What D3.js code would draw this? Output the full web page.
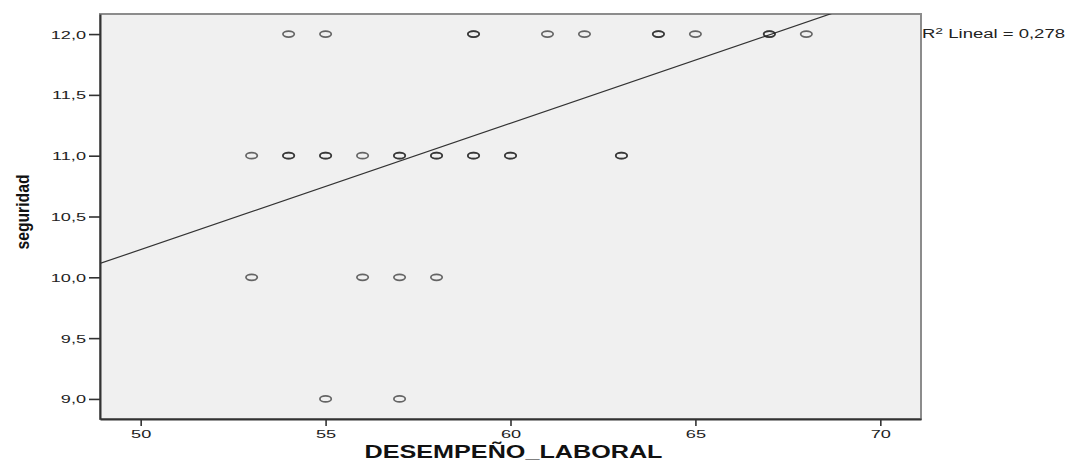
<!DOCTYPE html>
<html>
<head>
<meta charset="utf-8">
<script src="https://cdn.jsdelivr.net/npm/d3@7"></script>
<style>
  html, body { margin: 0; padding: 0; background: #fff; }
  svg { display: block; font-family: "Liberation Sans", Arial, sans-serif; }
</style>
</head>
<body>
<div id="chart"></div>
<script>
// puntos (DESEMPEÑO_LABORAL, seguridad) - los repetidos se ven más oscuros
const xValues = [54, 55, 59, 59, 61, 62, 64, 64, 65, 67, 67, 68,
                 53, 54, 54, 55, 55, 56, 57, 57, 58, 58, 59, 59, 60, 60, 63, 63,
                 53, 56, 57, 58,
                 55, 57];
const yValues = [12, 12, 12, 12, 12, 12, 12, 12, 12, 12, 12, 12,
                 11, 11, 11, 11, 11, 11, 11, 11, 11, 11, 11, 11, 11, 11, 11, 11,
                 10, 10, 10, 10,
                 9, 9];

const xTicks = [50, 55, 60, 65, 70];
const yTicks = [9, 9.5, 10, 10.5, 11, 11.5, 12];

// recta de ajuste lineal
const fitIntercept = 5.033;
const fitSlope = 0.1039;
const r2Label = "0,278";

const width = 1070, height = 463;
const plot = { left: 100, right: 921, top: 14, bottom: 419 };
const stretch = 1.65; // el original está estirado en horizontal

const svg = d3.select('#chart').append('svg')
  .attr('width', width)
  .attr('height', height);

const x = d3.scaleLinear().domain([48.9, 71.1]).range([plot.left, plot.right]);
const y = d3.scaleLinear().domain([8.835, 12.165]).range([plot.bottom, plot.top]);

const es = d3.formatLocale({ decimal: ',', thousands: '.', grouping: [3], currency: ['', '€'] });
const fmt1 = es.format('.1f');

// fondo del área de trazado
svg.append('rect')
  .attr('x', plot.left).attr('y', plot.top)
  .attr('width', plot.right - plot.left).attr('height', plot.bottom - plot.top)
  .attr('fill', '#f0f0f0')
  .attr('stroke', '#8c8c8c')
  .attr('stroke-width', 2);

svg.append('clipPath').attr('id', 'clip')
  .append('rect')
  .attr('x', plot.left).attr('y', plot.top)
  .attr('width', plot.right - plot.left).attr('height', plot.bottom - plot.top);

// ejes
const yAxis = svg.append('g')
  .attr('transform', `translate(${plot.left},0)`)
  .call(d3.axisLeft(y).tickValues(yTicks).tickFormat(fmt1).tickSize(11).tickSizeOuter(0));

const xAxis = svg.append('g')
  .attr('transform', `translate(0,${plot.bottom})`)
  .call(d3.axisBottom(x).tickValues(xTicks).tickFormat(d3.format('d')).tickSize(7).tickSizeOuter(0));

[yAxis, xAxis].forEach(g => {
  g.select('.domain').attr('stroke', '#333').attr('stroke-width', 2);
  g.selectAll('.tick line').attr('stroke', '#333').attr('stroke-width', 1.6);
  g.selectAll('.tick text')
    .attr('fill', '#222')
    .style('font-size', '11px')
    .style('font-family', '"Liberation Sans", Arial, sans-serif');
});

yAxis.selectAll('.tick text')
  .attr('x', -14 / stretch)
  .attr('dy', '0.36em')
  .attr('transform', `scale(${stretch},1)`);

xAxis.selectAll('.tick text')
  .attr('y', 11)
  .attr('dy', '0.71em')
  .attr('transform', `scale(${stretch},1)`);

// línea de ajuste
svg.append('line')
  .attr('clip-path', 'url(#clip)')
  .attr('x1', x(x.domain()[0]))
  .attr('y1', y(fitIntercept + fitSlope * x.domain()[0]))
  .attr('x2', x(x.domain()[1]))
  .attr('y2', y(fitIntercept + fitSlope * x.domain()[1]))
  .attr('stroke', '#333')
  .attr('stroke-width', 1.2);

// puntos
svg.append('g')
  .selectAll('ellipse')
  .data(xValues.map((v, i) => [v, yValues[i]]))
  .enter()
  .append('ellipse')
  .attr('cx', d => x(d[0]))
  .attr('cy', d => y(d[1]))
  .attr('rx', 5.7)
  .attr('ry', 3)
  .attr('fill', 'none')
  .attr('stroke', '#222')
  .attr('stroke-opacity', 0.68)
  .attr('stroke-width', 1.7);

// R² Lineal
const r2 = svg.append('text')
  .attr('x', plot.right + 1)
  .attr('y', 38)
  .attr('textLength', 143)
  .attr('lengthAdjust', 'spacingAndGlyphs')
  .attr('fill', '#222')
  .style('font-size', '12px');
r2.append('tspan').text('R');
r2.append('tspan').attr('dy', -4).style('font-size', '9px').text('2');
r2.append('tspan').attr('dy', 4).text(' Lineal = ' + r2Label);

// títulos de ejes
svg.append('text')
  .attr('x', (plot.left + plot.right) / 2 + 3)
  .attr('y', 458)
  .attr('text-anchor', 'middle')
  .attr('textLength', 298)
  .attr('lengthAdjust', 'spacingAndGlyphs')
  .attr('fill', '#111')
  .style('font-size', '18px')
  .style('font-weight', 'bold')
  .text('DESEMPEÑO_LABORAL');

svg.append('text')
  .attr('transform', 'translate(29,212) rotate(-90)')
  .attr('text-anchor', 'middle')
  .attr('textLength', 75)
  .attr('lengthAdjust', 'spacingAndGlyphs')
  .attr('fill', '#111')
  .style('font-size', '18px')
  .style('font-weight', 'bold')
  .text('seguridad');
</script>
</body>
</html>
